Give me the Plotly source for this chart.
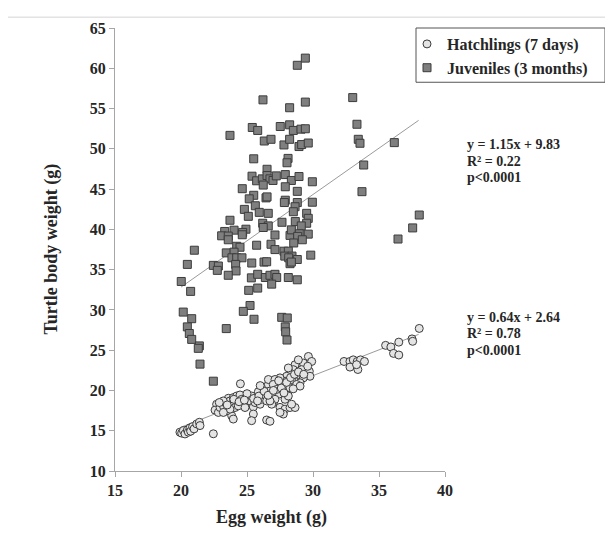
import plotly.graph_objects as go

# ---------------- data ----------------
hatch_x = [19.92, 20.05, 20.18, 20.3, 20.48, 20.56, 20.68, 20.73, 20.88, 20.99, 21.19, 21.39, 21.44,
           22.45, 24.5,
           22.7, 22.58, 22.83, 22.96, 23.21, 23.33, 23.59, 23.71, 23.84, 23.96, 24.09, 24.22, 24.47, 24.6,
           24.72, 24.92, 25.1, 25.23, 25.35, 25.48, 25.61, 25.73, 25.86, 25.99, 26.11, 26.24, 26.36, 26.49,
           26.62, 26.74, 26.87, 27.0, 27.12, 27.25, 27.37, 26.62, 25.48, 25.35, 26.49, 26.74, 23.84, 23.96,
           23.46, 23.71, 24.34, 24.85, 23.21,
           29.65, 29.9, 29.52, 29.72, 29.77, 29.27, 29.14, 28.89, 29.27, 29.02, 28.64, 28.51, 28.26, 28.13,
           28.0, 28.38, 28.76, 27.88, 27.75, 27.5, 27.37, 27.12, 26.99, 27.25, 26.87, 27.12, 28.0, 28.26,
           27.88, 28.13, 27.5, 27.88, 28.26, 28.64, 27.75, 27.5, 28.38, 26.87, 26.74, 28.89, 29.02,
           24.0, 24.4, 25.0, 25.5, 25.9, 26.3, 26.0, 26.6, 27.0, 27.4, 27.6, 28.0, 28.3, 28.6, 28.9, 29.3,
           29.6, 28.5, 27.8, 23.2, 22.9, 23.5, 24.8, 25.8,
           32.35, 32.8, 33.05, 33.35, 33.6, 33.9, 32.8, 33.4, 33.3,
           35.5, 35.9, 36.5, 37.5, 37.55, 36.1, 36.5, 38.05]
hatch_y = [14.82, 14.7, 15.03, 14.6, 15.1, 14.82, 15.35, 14.94, 15.51, 15.23, 15.84, 16.05, 15.64,
           14.62, 20.83,
           18.29, 17.56, 17.27, 17.88, 18.09, 18.5, 19.03, 18.7, 18.29, 19.11, 17.88, 19.31, 19.44, 18.9,
           18.5, 19.11, 18.29, 18.7, 19.31, 17.96, 18.5, 19.11, 19.84, 18.29, 18.9, 19.52, 20.33, 18.7,
           20.74, 19.93, 19.31, 18.5, 20.95, 20.13, 19.52, 21.36, 17.07, 16.25, 16.33, 16.17, 16.86, 16.45,
           17.47, 17.68, 18.09, 17.88, 17.27,
           24.22, 23.6, 22.99, 22.38, 21.76, 23.4, 22.58, 21.97, 21.56, 20.95, 23.19, 22.58, 22.17, 22.79,
           21.76, 21.36, 20.74, 21.15, 20.54, 21.56, 20.95, 21.36, 20.74, 20.13, 19.52, 18.9, 19.93, 20.33,
           18.9, 19.31, 17.9, 17.68, 17.88, 17.88, 17.07, 17.27, 18.29, 18.29, 18.7, 23.8, 20.54,
           18.9, 18.6, 19.6, 19.0, 19.3, 19.9, 20.6, 19.4, 20.0, 21.2, 20.3, 21.0, 21.6, 22.0, 22.3, 22.0,
           23.0, 20.2, 19.7, 18.7, 18.5, 18.2, 18.8, 18.7,
           23.6, 23.6, 23.8, 23.6, 23.8, 23.6, 22.9, 22.6, 23.2,
           25.6, 25.4, 26.0, 26.4, 26.1, 24.6, 24.4, 27.7]

juv_x = [29.42, 28.81, 33.01, 26.21, 29.42, 28.23, 33.33, 25.4, 25.81, 27.52, 28.23, 28.51, 29.09, 29.42,
         23.71, 26.31, 26.82, 27.8, 28.23, 28.94, 29.14, 29.64, 33.43, 33.56, 36.16, 25.51, 28.11, 28.03,
         33.84, 26.52, 25.38, 25.73, 26.16, 26.52, 26.74, 26.97, 27.22, 26.23, 27.9, 28.36, 28.94, 29.95,
         24.64, 27.9, 28.81, 33.71, 25.51, 25.17, 26.44, 26.52, 27.9, 27.83, 28.81, 29.95, 25.63, 28.64,
         24.8, 25.93, 26.61, 28.51, 29.52, 38.05, 25.1, 29.64, 23.71, 26.19, 26.61, 27.65, 28.66, 29.52,
         26.23, 29.11, 37.55, 23.31, 24.02, 24.92, 24.67, 24.64, 23.08, 23.58, 23.58, 27.12, 28.26, 28.36,
         28.96, 28.84, 29.64, 29.19, 36.44, 25.73, 26.82, 27.12, 28.54, 21.01, 24.22, 24.47, 23.43, 24.02,
         27.8, 28.13, 29.83, 23.86, 24.22, 24.62, 27.86, 28.41, 28.16, 28.81, 24.14, 25.36, 26.29, 26.49,
         20.48, 22.45, 22.83, 22.75, 28.26, 28.36, 24.17, 23.58, 25.33, 25.81, 26.39, 26.74, 27.12, 27.25,
         26.87, 28.13, 28.81, 20.02, 20.73, 25.13, 25.81, 25.23, 24.72, 20.17, 20.81, 25.53, 27.63, 28.05,
         20.48, 20.63, 23.43, 27.9, 27.93, 20.81, 28.03, 21.39, 21.31, 21.44, 22.45]
juv_y = [61.26, 60.37, 56.36, 56.08, 55.8, 55.1, 53.05, 52.65, 52.28, 52.77, 52.98, 52.28, 52.44, 52.49,
         51.67, 50.97, 51.18, 50.48, 51.18, 50.28, 50.53, 50.72, 51.18, 50.69, 50.77, 48.76, 48.81, 48.27,
         47.99, 47.46, 46.6, 46.03, 46.27, 46.68, 46.27, 46.07, 46.64, 45.5, 46.8, 46.07, 46.56, 45.91,
         45.05, 45.29, 44.72, 44.68, 44.23, 43.79, 43.91, 44.03, 43.62, 43.33, 43.33, 43.37, 42.93, 42.81,
         42.48, 42.11, 41.99, 42.19, 41.99, 41.78, 41.62, 41.37, 41.13, 40.76, 40.43, 40.88, 40.97, 40.76,
         40.23, 40.43, 40.18, 39.74, 39.9, 40.02, 39.62, 39.33, 39.2, 39.17, 38.71, 39.3, 39.25, 39.94,
         39.45, 39.13, 39.41, 38.71, 38.8, 38.03, 38.15, 37.49, 38.31, 37.41, 37.9, 37.78, 37.08, 37.17,
         37.29, 37.29, 36.8, 36.47, 36.47, 36.47, 36.68, 36.68, 36.47, 36.26, 35.65, 35.82, 35.94, 35.98,
         35.65, 35.53, 35.45, 34.91, 35.74, 35.94, 34.84, 34.3, 33.98, 34.42, 34.02, 34.3, 34.42, 34.02,
         33.2, 34.02, 33.74, 33.53, 32.3, 32.43, 32.71, 30.55, 29.82, 29.73, 28.91, 28.84, 29.08, 29.0,
         27.89, 27.07, 27.68, 27.89, 27.28, 26.34, 26.26, 25.53, 25.23, 23.27, 21.15]

# fitted lines (from the printed equations)
juv_slope, juv_intercept = 1.15, 9.83
hatch_slope, hatch_intercept = 0.64, 2.64
trend_x = [20.0, 38.0]

juv_stats = ["y = 1.15x + 9.83", "R² = 0.22", "p<0.0001"]
hatch_stats = ["y = 0.64x + 2.64", "R² = 0.78", "p<0.0001"]

x_ticks = [15, 20, 25, 30, 35, 40]
y_ticks = [10, 15, 20, 25, 30, 35, 40, 45, 50, 55, 60, 65]

# ---------------- figure ----------------
FONT = "Liberation Serif"
TXT = "#262626"
OFF = 8                       # page body margin offset
W, H = 613 - OFF, 543 - OFF
PL, PR, PT, PB = 115, 445, 22, 471   # plot box in target pixel coords
PW, PH = PR - PL, PB - PT


def px(xp):
    return (xp - PL) / PW


def py(yp):
    return (PB - yp) / PH


fig = go.Figure()

fig.add_trace(go.Scatter(
    x=trend_x, y=[juv_slope * v + juv_intercept for v in trend_x],
    mode="lines", line=dict(color="#9a9a9a", width=1), showlegend=False, hoverinfo="skip"))
fig.add_trace(go.Scatter(
    x=trend_x, y=[hatch_slope * v + hatch_intercept for v in trend_x],
    mode="lines", line=dict(color="#9a9a9a", width=1), showlegend=False, hoverinfo="skip"))

fig.add_trace(go.Scatter(
    x=hatch_x, y=hatch_y, mode="markers", name="<b>Hatchlings (7 days)</b>",
    marker=dict(symbol="circle", size=8, color="#e4e4e4",
                line=dict(color="#3c3c3c", width=1))))
fig.add_trace(go.Scatter(
    x=juv_x, y=juv_y, mode="markers", name="<b>Juveniles (3 months)</b>",
    marker=dict(symbol="square", size=8, color="#7f7f7f",
                line=dict(color="#3c3c3c", width=1))))

axis_common = dict(showgrid=False, zeroline=False, showline=True, linecolor="#a6a6a6",
                   linewidth=1, ticks="outside", ticklen=5, tickcolor="#a6a6a6",
                   tickfont=dict(family=FONT, size=16, color=TXT))

fig.update_xaxes(range=[15, 40], tickvals=x_ticks,
                 ticktext=["<b>%d</b>" % v for v in x_ticks], **axis_common)
fig.update_yaxes(range=[10, 65], tickvals=y_ticks,
                 ticktext=["<b>%d</b>" % v for v in y_ticks], **axis_common)

ann = []
ann.append(dict(text="<b>Egg weight (g)</b>", x=px(271), y=py(518), xref="paper", yref="paper",
                showarrow=False, font=dict(family=FONT, size=18, color=TXT),
                xanchor="center", yanchor="middle"))
ann.append(dict(text="<b>Turtle body weight (g)</b>", x=px(51), y=0.5, xref="paper", yref="paper",
                showarrow=False, textangle=-90, font=dict(family=FONT, size=18, color=TXT),
                xanchor="center", yanchor="middle"))
for i, t in enumerate(juv_stats):
    ann.append(dict(text="<b>%s</b>" % t, x=px(465), y=py(140 + 17 * i),
                    xref="paper", yref="paper", showarrow=False, xanchor="left", yanchor="middle",
                    font=dict(family=FONT, size=14, color=TXT)))
for i, t in enumerate(hatch_stats):
    ann.append(dict(text="<b>%s</b>" % t, x=px(465), y=py(315 + 17 * i),
                    xref="paper", yref="paper", showarrow=False, xanchor="left", yanchor="middle",
                    font=dict(family=FONT, size=14, color=TXT)))

shapes = [
    # legend box
    dict(type="rect", xref="paper", yref="paper",
         x0=px(416), x1=px(605), y0=py(77), y1=py(22),
         line=dict(color="#555555", width=1), fillcolor="rgba(0,0,0,0)"),
    # outer chart-area frame (top and left edges)
    dict(type="line", xref="paper", yref="paper",
         x0=px(7), x1=px(640), y0=py(11), y1=py(11),
         line=dict(color="#d4d4d4", width=1)),
    dict(type="line", xref="paper", yref="paper",
         x0=px(7), x1=px(7), y0=py(11), y1=py(600),
         line=dict(color="#d4d4d4", width=1)),
]

fig.update_layout(
    width=W, height=H,
    margin=dict(l=PL - OFF, r=W - (PR - OFF), t=PT - OFF, b=H - (PB - OFF)),
    paper_bgcolor="white", plot_bgcolor="white",
    showlegend=True,
    legend=dict(x=px(407), y=py(21), xanchor="left", yanchor="top",
                bgcolor="rgba(0,0,0,0)", borderwidth=0,
                font=dict(family=FONT, size=16, color=TXT), tracegroupgap=0),
    annotations=ann, shapes=shapes,
    font=dict(family=FONT, color=TXT),
)

fig.write_html("out.html")
